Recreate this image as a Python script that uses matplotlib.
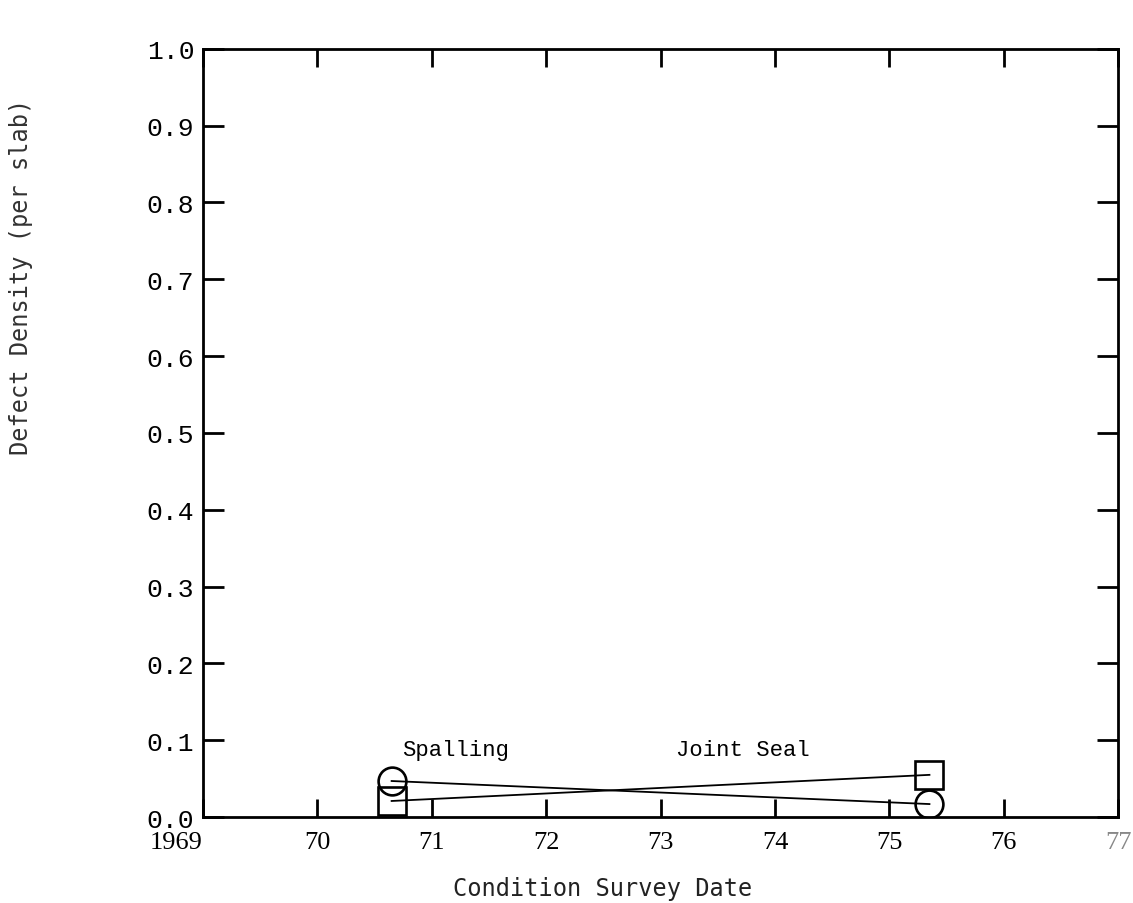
import matplotlib
matplotlib.use('Agg')
import matplotlib.pyplot as plt
import numpy as np

# survey years and defect densities (per slab)
anos = [1970.65, 1975.35]
spalling = [0.047, 0.017]
joint_seal = [0.021, 0.055]

x_ticks = [1969, 1970, 1971, 1972, 1973, 1974, 1975, 1976, 1977]
x_labels = ['1969', '70', '71', '72', '73', '74', '75', '76', '77']
y_ticks = [0.0, 0.1, 0.2, 0.3, 0.4, 0.5, 0.6, 0.7, 0.8, 0.9, 1.0]

fig = plt.figure(figsize=(11.33, 9.04), dpi=100)
ax = fig.add_axes([0.179, 0.095, 0.808, 0.850])

# spalling con circulos, joint seal con cuadrados
ax.plot(anos, spalling, color='black', lw=1.3, marker='o', ms=20,
        mfc='none', mec='black', mew=1.9, zorder=3)
ax.plot(anos, joint_seal, color='black', lw=1.3, marker='s', ms=20,
        mfc='none', mec='black', mew=1.9, zorder=3)

ax.text(1971.21, 0.088, 'Spalling', family='Liberation Mono', fontsize=16,
        ha='center', va='center')
ax.text(1973.72, 0.088, 'Joint Seal', family='Liberation Mono', fontsize=16,
        ha='center', va='center')

ax.set_xlim(1969, 1977)
ax.set_ylim(0, 1.0)
ax.set_xticks(x_ticks)
ax.set_xticklabels(x_labels, family='Liberation Serif', fontsize=19)
ax.set_yticks(y_ticks)
ax.set_yticklabels(['%.1f' % v for v in y_ticks], family='Liberation Mono', fontsize=19)
ax.get_xticklabels()[0].set_ha('right')
ax.get_xticklabels()[-1].set_color('#888888')

ax.tick_params(axis='both', direction='in', length=13, width=2,
               top=True, right=True)
ax.tick_params(axis='x', pad=10)
ax.tick_params(axis='y', length=15, pad=6)
for s in ax.spines.values():
    s.set_linewidth(2)

ax.set_xlabel('Condition Survey Date', family='DejaVu Sans Mono', fontsize=17,
              color='#222222')
ax.set_ylabel('Defect Density (per slab)', family='DejaVu Sans Mono', fontsize=17,
              color='#333333')
ax.xaxis.set_label_coords(0.437, -0.077)
ax.yaxis.set_label_coords(-0.185, 0.705)

fig.savefig('out.png', dpi=100)
